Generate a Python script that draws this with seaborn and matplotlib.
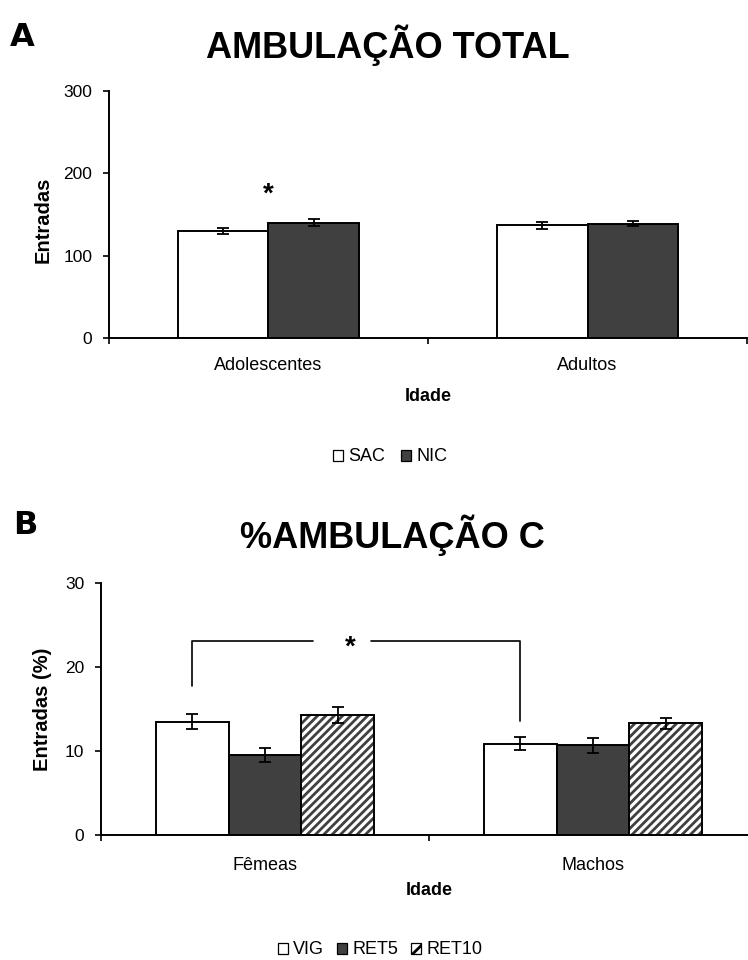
import matplotlib
matplotlib.use('Agg')
import matplotlib.pyplot as plt
import matplotlib.colors as mcolors
from matplotlib.patches import Patch
import seaborn as sns
import pandas as pd

# ---------------- data ----------------
a_groups = ['Adolescentes', 'Adultos']
a_series = ['SAC', 'NIC']
a_sac_mean = [130, 137]
a_sac_err = [4, 4]
a_nic_mean = [140, 139]
a_nic_err = [4, 3]
a_yticks = [0, 100, 200, 300]

b_groups = ['Fêmeas', 'Machos']
b_series = ['VIG', 'RET5', 'RET10']
b_vig_mean = [13.5, 10.9]
b_vig_err = [0.9, 0.75]
b_ret5_mean = [9.5, 10.7]
b_ret5_err = [0.85, 0.9]
b_ret10_mean = [14.3, 13.3]
b_ret10_err = [0.95, 0.7]
b_yticks = [0, 10, 20, 30]

# ---------------- style ----------------
sns.set_theme(style='white')
plt.rcParams['font.family'] = ['Liberation Sans', 'DejaVu Sans']
plt.rcParams['text.color'] = 'black'
plt.rcParams['axes.labelcolor'] = 'black'
plt.rcParams['hatch.linewidth'] = 2.0

DARK = '#404040'
TICK_FS = 12.5
XLAB_FS = 13
YLAB_FS = 14.5
LEG_FS = 13

fig = plt.figure(figsize=(7.48, 9.6), dpi=100)


def draw_panel(ax, groups, series, means, errs, width, colors, hatches, ylim,
               yticks, xpad):
    rows = []
    for s, m in zip(series, means):
        for g, v in zip(groups, m):
            rows.append({'group': g, 'series': s, 'value': v})
    df = pd.DataFrame(rows)
    sns.barplot(data=df, x='group', y='value', hue='series', order=groups,
                hue_order=series, palette=dict(zip(series, colors)),
                width=width, errorbar=None, edgecolor='black', linewidth=1.4,
                saturation=1, legend=False, ax=ax)
    bar_conts = list(ax.containers)
    centers = []
    for i, cont in enumerate(bar_conts):
        cs = []
        for j, p in enumerate(cont.patches):
            x = p.get_x() + p.get_width() / 2
            cs.append(x)
            if hatches[i]:
                p.set_hatch(hatches[i])
                p.set_edgecolor('black')
                p._hatch_color = mcolors.to_rgba(DARK)
            ax.errorbar(x, means[i][j], yerr=errs[i][j], fmt='none',
                        ecolor='black', elinewidth=1.3, capsize=4.3,
                        capthick=1.3, zorder=5)
        centers.append(cs)
    ax.set_xlim(-0.5, 1.5)
    ax.set_ylim(*ylim)
    ax.set_yticks(yticks)
    ax.set_xticks([-0.5, 0.5, 1.5])
    ax.set_xticklabels([])
    ax.set_xticks([0, 1], minor=True)
    ax.set_xticklabels(groups, minor=True)
    ax.tick_params(axis='x', which='major', direction='out', length=4.5,
                   width=1.2, bottom=True, color='black')
    ax.tick_params(axis='x', which='minor', length=0, pad=xpad,
                   labelsize=XLAB_FS, labelcolor='black')
    ax.tick_params(axis='y', direction='out', length=4, width=1.2, left=True,
                   pad=8, labelsize=TICK_FS, color='black', labelcolor='black')
    for side in ['top', 'right']:
        ax.spines[side].set_visible(False)
    for side in ['left', 'bottom']:
        ax.spines[side].set_color('black')
        ax.spines[side].set_linewidth(1.4)
    return centers


# ---------------- panel A ----------------
ax_a = fig.add_axes([0.1457, 0.6476, 0.8530, 0.2579])
draw_panel(ax_a, a_groups, a_series, [a_sac_mean, a_nic_mean],
           [a_sac_err, a_nic_err], 0.57, ['white', DARK], [None, None],
           (0, 300), a_yticks, 13.5)
ax_a.set_ylabel('Entradas', fontsize=YLAB_FS, fontweight='bold')
ax_a.yaxis.set_label_coords(-0.089, 0.48)
ax_a.set_xlabel('Idade', fontsize=XLAB_FS, fontweight='bold')
ax_a.xaxis.set_label_coords(0.5, -0.20)
ax_a.text(0, 166, '*', ha='center', va='baseline', fontsize=20,
          fontweight='bold')

fig.text(388 / 748, 1 - 45 / 960, 'AMBULAÇÃO TOTAL', ha='center',
         va='center', fontsize=26, fontweight='bold')
fig.text(10 / 748, 1 - 22 / 960, 'A', ha='left', va='top', fontsize=23,
         fontweight='bold', family=['DejaVu Sans'])

fig.legend(handles=[Patch(facecolor=c, edgecolor='black', linewidth=0.9)
                    for c in ['white', DARK]],
           labels=a_series, loc='center',
           bbox_to_anchor=(390 / 748, 1 - 457 / 960), ncol=2, frameon=False,
           handlelength=0.55, handleheight=0.55, handletextpad=0.3,
           columnspacing=0.9, fontsize=LEG_FS)

# ---------------- panel B ----------------
ax_b = fig.add_axes([0.135, 0.1302, 0.877, 0.2622])
cb = draw_panel(ax_b, b_groups, b_series,
                [b_vig_mean, b_ret5_mean, b_ret10_mean],
                [b_vig_err, b_ret5_err, b_ret10_err], 0.665,
                ['white', DARK, 'white'], [None, None, '////'],
                (0, 30), b_yticks, 16)
ax_b.set_ylabel('Entradas (%)', fontsize=YLAB_FS, fontweight='bold')
ax_b.yaxis.set_label_coords(-0.075, 0.50)
ax_b.set_xlabel('Idade', fontsize=XLAB_FS, fontweight='bold')
ax_b.xaxis.set_label_coords(0.5, -0.187)

# significance bracket between VIG bars
bracket_y = 23.1
left_x, right_x = cb[0][0], cb[0][1]
ax_b.plot([left_x, left_x, 0.146], [17.7, bracket_y, bracket_y],
          color='black', lw=1.2, clip_on=False)
ax_b.plot([0.322, right_x, right_x], [bracket_y, bracket_y, 13.6],
          color='black', lw=1.2, clip_on=False)
ax_b.text(0.261, 21.5, '*', ha='center', va='baseline', fontsize=20,
          fontweight='bold')

fig.text(392 / 748, 1 - 535 / 960, '%AMBULAÇÃO C', ha='center',
         va='center', fontsize=26, fontweight='bold')
fig.text(13 / 748, 1 - 510 / 960, 'B', ha='left', va='top', fontsize=23,
         fontweight='bold', family=['DejaVu Sans'])

fig.legend(handles=[Patch(facecolor=c, edgecolor='black', linewidth=0.9,
                          hatch=h)
                    for c, h in zip(['white', DARK, 'white'],
                                    [None, None, '//'])],
           labels=b_series, loc='center',
           bbox_to_anchor=(380 / 748, 1 - 950 / 960), ncol=3, frameon=False,
           handlelength=0.55, handleheight=0.55, handletextpad=0.3,
           columnspacing=0.7, fontsize=LEG_FS)

fig.savefig('out.png', dpi=100)
